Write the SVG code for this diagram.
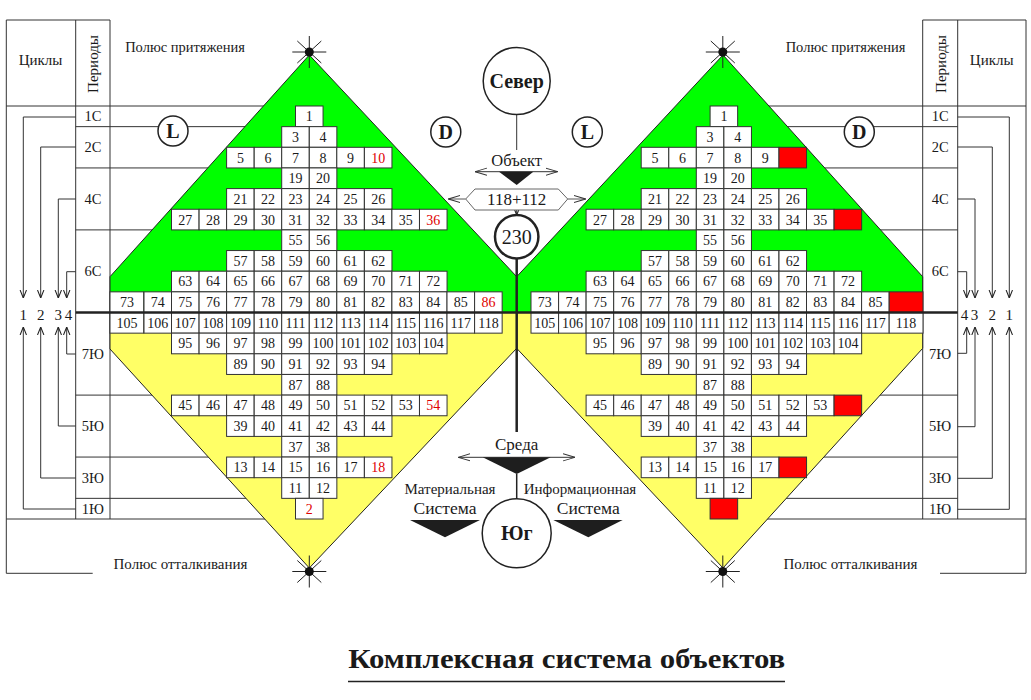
<svg xmlns="http://www.w3.org/2000/svg" xmlns:xlink="http://www.w3.org/1999/xlink" width="1031" height="700" viewBox="0 0 1031 700">
<style>
.t{font-family:"Liberation Serif","Times New Roman",serif;fill:#1a1a1a}
.grid use{fill:#fff;stroke:#333;stroke-width:1}
.grid .rc{fill:#ff0000}
.grid text{font-family:"Liberation Serif","Times New Roman",serif;font-size:14px;text-anchor:middle;fill:#1a1a1a}
.grid text.r{fill:#e00000}
.ln{stroke:#333;stroke-width:1;fill:none}
.lbl{font-family:"Liberation Serif","Times New Roman",serif;font-size:14.5px;fill:#1a1a1a;text-anchor:middle}
.cyc{stroke:#333;stroke-width:1;fill:none;marker-end:url(#ah)}
.circ{fill:#fff;stroke:#222;stroke-width:1.5}
.big{font-family:"Liberation Serif","Times New Roman",serif;font-weight:bold;font-size:20px;text-anchor:middle;fill:#1a1a1a}
.mid{font-family:"Liberation Serif","Times New Roman",serif;text-anchor:middle;fill:#1a1a1a}
.blk{fill:#1e1e1e;stroke:none}
</style>
<defs>
<marker id="ah" viewBox="0 0 10 10" refX="10" refY="5" markerWidth="8" markerHeight="8" markerUnits="userSpaceOnUse" orient="auto-start-reverse"><path d="M0,1 L10,5 L0,9" fill="none" stroke="#222" stroke-width="1.3"/></marker>
<marker id="ah2" viewBox="0 0 10 10" refX="10" refY="5" markerWidth="12" markerHeight="9" markerUnits="userSpaceOnUse" orient="auto-start-reverse" preserveAspectRatio="none"><path d="M0,1 L10,5 L0,9" fill="none" stroke="#333" stroke-width="1"/></marker>
<rect id="c" width="27.55" height="20.65"/>
<rect id="cw" width="33.8" height="20.65"/>
<g id="star"><path d="M-17,0H17M0,-16V16M-12,-11L12,11M-12,11L12,-11" stroke="#222" stroke-width="1"/><circle r="4.5" fill="#111"/></g>
</defs>
<rect width="1031" height="700" fill="#fff"/>

<g id="table-lines" class="ln">
<path d="M6.3,20H110M6.3,20V573.3H92.7M75.7,20V519M110,20V519"/>
<path d="M6.3,106H300M75.7,126.65H300M75.7,167.95H300M75.7,229.9H300M75.7,395.1H300M75.7,457.05H300M75.7,498.35H300M6.3,519H300"/>
<path d="M922.7,20H1026M1026,20V573.3H940M922.7,20V519M957.7,20V519"/>
<path d="M730,106H1026M730,126.65H957.7M730,167.95H957.7M730,229.9H957.7M730,395.1H957.7M730,457.05H957.7M730,498.35H957.7M730,519H1026"/>
</g>

<g id="fields">
<polygon points="110,312.5 110,276.7 309.3,55 516.7,276.7 723,55 922.7,276.7 922.7,312.5" fill="#00ff00" stroke="#222" stroke-width="1"/>
<polygon points="110,312.5 110,349 309.3,568 516.7,348.3 723,568 922.7,348.3 922.7,312.5" fill="#ffff66" stroke="#222" stroke-width="1"/>
</g>

<g id="headers">
<text class="lbl" x="40.5" y="65" style="font-size:15px">Циклы</text>
<text class="lbl" transform="translate(97.5,64) rotate(-90)" style="font-size:15px">Периоды</text>
<text class="lbl" x="991.7" y="65" style="font-size:15px">Циклы</text>
<text class="lbl" transform="translate(945.5,64) rotate(-90)" style="font-size:15px">Периоды</text>
<text class="lbl" x="185" y="52">Полюс притяжения</text>
<text class="lbl" x="845.5" y="52">Полюс притяжения</text>
<text class="lbl" x="180.5" y="569" style="font-size:15px">Полюс отталкивания</text>
<text class="lbl" x="850.5" y="569" style="font-size:15px">Полюс отталкивания</text>
</g>

<g id="periods-left" class="lbl">
<text x="92.9" y="121.3">1С</text>
<text x="92.9" y="152.3">2С</text>
<text x="92.9" y="203.9">4С</text>
<text x="92.9" y="276.2">6С</text>
<text x="92.9" y="358.8">7Ю</text>
<text x="92.9" y="431.1">5Ю</text>
<text x="92.9" y="482.7">3Ю</text>
<text x="92.9" y="513.7">1Ю</text>
</g>
<g id="periods-right" class="lbl">
<text x="940.2" y="121.3">1С</text>
<text x="940.2" y="152.3">2С</text>
<text x="940.2" y="203.9">4С</text>
<text x="940.2" y="276.2">6С</text>
<text x="940.2" y="358.8">7Ю</text>
<text x="940.2" y="431.1">5Ю</text>
<text x="940.2" y="482.7">3Ю</text>
<text x="940.2" y="513.7">1Ю</text>
</g>

<g id="left-grid" class="grid">
<g transform="translate(0,106)"><use href="#c" x="295.5"/><text x="309.3" y="15.3">1</text></g>
<g transform="translate(0,126.65)"><use href="#c" x="281.7"/><use href="#c" x="309.3"/><text x="295.5" y="15.3">3</text><text x="323.1" y="15.3">4</text></g>
<g transform="translate(0,147.3)"><use href="#c" x="226.6"/><use href="#c" x="254.2"/><use href="#c" x="281.7"/><use href="#c" x="309.3"/><use href="#c" x="336.8"/><use href="#c" x="364.4"/><text x="240.4" y="15.3">5</text><text x="268" y="15.3">6</text><text x="295.5" y="15.3">7</text><text x="323.1" y="15.3">8</text><text x="350.6" y="15.3">9</text><text class="r" x="378.2" y="15.3">10</text></g>
<g transform="translate(0,167.95)"><use href="#c" x="281.7"/><use href="#c" x="309.3"/><text x="295.5" y="15.3">19</text><text x="323.1" y="15.3">20</text></g>
<g transform="translate(0,188.6)"><use href="#c" x="226.6"/><use href="#c" x="254.2"/><use href="#c" x="281.7"/><use href="#c" x="309.3"/><use href="#c" x="336.8"/><use href="#c" x="364.4"/><text x="240.4" y="15.3">21</text><text x="268" y="15.3">22</text><text x="295.5" y="15.3">23</text><text x="323.1" y="15.3">24</text><text x="350.6" y="15.3">25</text><text x="378.2" y="15.3">26</text></g>
<g transform="translate(0,209.25)"><use href="#c" x="171.5"/><use href="#c" x="199.1"/><use href="#c" x="226.6"/><use href="#c" x="254.2"/><use href="#c" x="281.7"/><use href="#c" x="309.3"/><use href="#c" x="336.8"/><use href="#c" x="364.4"/><use href="#c" x="391.9"/><use href="#c" x="419.5"/><text x="185.3" y="15.3">27</text><text x="212.9" y="15.3">28</text><text x="240.4" y="15.3">29</text><text x="268" y="15.3">30</text><text x="295.5" y="15.3">31</text><text x="323.1" y="15.3">32</text><text x="350.6" y="15.3">33</text><text x="378.2" y="15.3">34</text><text x="405.7" y="15.3">35</text><text class="r" x="433.3" y="15.3">36</text></g>
<g transform="translate(0,229.9)"><use href="#c" x="281.7"/><use href="#c" x="309.3"/><text x="295.5" y="15.3">55</text><text x="323.1" y="15.3">56</text></g>
<g transform="translate(0,250.55)"><use href="#c" x="226.6"/><use href="#c" x="254.2"/><use href="#c" x="281.7"/><use href="#c" x="309.3"/><use href="#c" x="336.8"/><use href="#c" x="364.4"/><text x="240.4" y="15.3">57</text><text x="268" y="15.3">58</text><text x="295.5" y="15.3">59</text><text x="323.1" y="15.3">60</text><text x="350.6" y="15.3">61</text><text x="378.2" y="15.3">62</text></g>
<g transform="translate(0,271.2)"><use href="#c" x="171.5"/><use href="#c" x="199.1"/><use href="#c" x="226.6"/><use href="#c" x="254.2"/><use href="#c" x="281.7"/><use href="#c" x="309.3"/><use href="#c" x="336.8"/><use href="#c" x="364.4"/><use href="#c" x="391.9"/><use href="#c" x="419.5"/><text x="185.3" y="15.3">63</text><text x="212.9" y="15.3">64</text><text x="240.4" y="15.3">65</text><text x="268" y="15.3">66</text><text x="295.5" y="15.3">67</text><text x="323.1" y="15.3">68</text><text x="350.6" y="15.3">69</text><text x="378.2" y="15.3">70</text><text x="405.7" y="15.3">71</text><text x="433.3" y="15.3">72</text></g>
<g transform="translate(0,291.85)"><use href="#cw" x="110"/><use href="#c" x="144"/><use href="#c" x="171.5"/><use href="#c" x="199.1"/><use href="#c" x="226.6"/><use href="#c" x="254.2"/><use href="#c" x="281.7"/><use href="#c" x="309.3"/><use href="#c" x="336.8"/><use href="#c" x="364.4"/><use href="#c" x="391.9"/><use href="#c" x="419.5"/><use href="#c" x="447"/><use href="#c" x="474.6"/><text x="127" y="15.3">73</text><text x="157.8" y="15.3">74</text><text x="185.3" y="15.3">75</text><text x="212.9" y="15.3">76</text><text x="240.4" y="15.3">77</text><text x="268" y="15.3">78</text><text x="295.5" y="15.3">79</text><text x="323.1" y="15.3">80</text><text x="350.6" y="15.3">81</text><text x="378.2" y="15.3">82</text><text x="405.7" y="15.3">83</text><text x="433.3" y="15.3">84</text><text x="460.8" y="15.3">85</text><text class="r" x="488.4" y="15.3">86</text></g>
<g transform="translate(0,312.5)"><use href="#cw" x="110"/><use href="#c" x="144"/><use href="#c" x="171.5"/><use href="#c" x="199.1"/><use href="#c" x="226.6"/><use href="#c" x="254.2"/><use href="#c" x="281.7"/><use href="#c" x="309.3"/><use href="#c" x="336.8"/><use href="#c" x="364.4"/><use href="#c" x="391.9"/><use href="#c" x="419.5"/><use href="#c" x="447"/><use href="#c" x="474.6"/><text x="127" y="15.3">105</text><text x="157.8" y="15.3">106</text><text x="185.3" y="15.3">107</text><text x="212.9" y="15.3">108</text><text x="240.4" y="15.3">109</text><text x="268" y="15.3">110</text><text x="295.5" y="15.3">111</text><text x="323.1" y="15.3">112</text><text x="350.6" y="15.3">113</text><text x="378.2" y="15.3">114</text><text x="405.7" y="15.3">115</text><text x="433.3" y="15.3">116</text><text x="460.8" y="15.3">117</text><text x="488.4" y="15.3">118</text></g>
<g transform="translate(0,333.15)"><use href="#c" x="171.5"/><use href="#c" x="199.1"/><use href="#c" x="226.6"/><use href="#c" x="254.2"/><use href="#c" x="281.7"/><use href="#c" x="309.3"/><use href="#c" x="336.8"/><use href="#c" x="364.4"/><use href="#c" x="391.9"/><use href="#c" x="419.5"/><text x="185.3" y="15.3">95</text><text x="212.9" y="15.3">96</text><text x="240.4" y="15.3">97</text><text x="268" y="15.3">98</text><text x="295.5" y="15.3">99</text><text x="323.1" y="15.3">100</text><text x="350.6" y="15.3">101</text><text x="378.2" y="15.3">102</text><text x="405.7" y="15.3">103</text><text x="433.3" y="15.3">104</text></g>
<g transform="translate(0,353.8)"><use href="#c" x="226.6"/><use href="#c" x="254.2"/><use href="#c" x="281.7"/><use href="#c" x="309.3"/><use href="#c" x="336.8"/><use href="#c" x="364.4"/><text x="240.4" y="15.3">89</text><text x="268" y="15.3">90</text><text x="295.5" y="15.3">91</text><text x="323.1" y="15.3">92</text><text x="350.6" y="15.3">93</text><text x="378.2" y="15.3">94</text></g>
<g transform="translate(0,374.45)"><use href="#c" x="281.7"/><use href="#c" x="309.3"/><text x="295.5" y="15.3">87</text><text x="323.1" y="15.3">88</text></g>
<g transform="translate(0,395.1)"><use href="#c" x="171.5"/><use href="#c" x="199.1"/><use href="#c" x="226.6"/><use href="#c" x="254.2"/><use href="#c" x="281.7"/><use href="#c" x="309.3"/><use href="#c" x="336.8"/><use href="#c" x="364.4"/><use href="#c" x="391.9"/><use href="#c" x="419.5"/><text x="185.3" y="15.3">45</text><text x="212.9" y="15.3">46</text><text x="240.4" y="15.3">47</text><text x="268" y="15.3">48</text><text x="295.5" y="15.3">49</text><text x="323.1" y="15.3">50</text><text x="350.6" y="15.3">51</text><text x="378.2" y="15.3">52</text><text x="405.7" y="15.3">53</text><text class="r" x="433.3" y="15.3">54</text></g>
<g transform="translate(0,415.75)"><use href="#c" x="226.6"/><use href="#c" x="254.2"/><use href="#c" x="281.7"/><use href="#c" x="309.3"/><use href="#c" x="336.8"/><use href="#c" x="364.4"/><text x="240.4" y="15.3">39</text><text x="268" y="15.3">40</text><text x="295.5" y="15.3">41</text><text x="323.1" y="15.3">42</text><text x="350.6" y="15.3">43</text><text x="378.2" y="15.3">44</text></g>
<g transform="translate(0,436.4)"><use href="#c" x="281.7"/><use href="#c" x="309.3"/><text x="295.5" y="15.3">37</text><text x="323.1" y="15.3">38</text></g>
<g transform="translate(0,457.05)"><use href="#c" x="226.6"/><use href="#c" x="254.2"/><use href="#c" x="281.7"/><use href="#c" x="309.3"/><use href="#c" x="336.8"/><use href="#c" x="364.4"/><text x="240.4" y="15.3">13</text><text x="268" y="15.3">14</text><text x="295.5" y="15.3">15</text><text x="323.1" y="15.3">16</text><text x="350.6" y="15.3">17</text><text class="r" x="378.2" y="15.3">18</text></g>
<g transform="translate(0,477.7)"><use href="#c" x="281.7"/><use href="#c" x="309.3"/><text x="295.5" y="15.3">11</text><text x="323.1" y="15.3">12</text></g>
<g transform="translate(0,498.35)"><use href="#c" x="295.5"/><text class="r" x="309.3" y="15.3">2</text></g>
</g>

<g id="right-grid" class="grid">
<g transform="translate(0,106)"><use href="#c" x="710.1"/><text x="723.9" y="15.3">1</text></g>
<g transform="translate(0,126.65)"><use href="#c" x="696.3"/><use href="#c" x="723.9"/><text x="710.1" y="15.3">3</text><text x="737.7" y="15.3">4</text></g>
<g transform="translate(0,147.3)"><use href="#c" x="641.2"/><use href="#c" x="668.8"/><use href="#c" x="696.3"/><use href="#c" x="723.9"/><use href="#c" x="751.4"/><use class="rc" href="#c" x="779"/><text x="655" y="15.3">5</text><text x="682.6" y="15.3">6</text><text x="710.1" y="15.3">7</text><text x="737.7" y="15.3">8</text><text x="765.2" y="15.3">9</text></g>
<g transform="translate(0,167.95)"><use href="#c" x="696.3"/><use href="#c" x="723.9"/><text x="710.1" y="15.3">19</text><text x="737.7" y="15.3">20</text></g>
<g transform="translate(0,188.6)"><use href="#c" x="641.2"/><use href="#c" x="668.8"/><use href="#c" x="696.3"/><use href="#c" x="723.9"/><use href="#c" x="751.4"/><use href="#c" x="779"/><text x="655" y="15.3">21</text><text x="682.6" y="15.3">22</text><text x="710.1" y="15.3">23</text><text x="737.7" y="15.3">24</text><text x="765.2" y="15.3">25</text><text x="792.8" y="15.3">26</text></g>
<g transform="translate(0,209.25)"><use href="#c" x="586.1"/><use href="#c" x="613.7"/><use href="#c" x="641.2"/><use href="#c" x="668.8"/><use href="#c" x="696.3"/><use href="#c" x="723.9"/><use href="#c" x="751.4"/><use href="#c" x="779"/><use href="#c" x="806.5"/><use class="rc" href="#c" x="834.1"/><text x="599.9" y="15.3">27</text><text x="627.5" y="15.3">28</text><text x="655" y="15.3">29</text><text x="682.6" y="15.3">30</text><text x="710.1" y="15.3">31</text><text x="737.7" y="15.3">32</text><text x="765.2" y="15.3">33</text><text x="792.8" y="15.3">34</text><text x="820.3" y="15.3">35</text></g>
<g transform="translate(0,229.9)"><use href="#c" x="696.3"/><use href="#c" x="723.9"/><text x="710.1" y="15.3">55</text><text x="737.7" y="15.3">56</text></g>
<g transform="translate(0,250.55)"><use href="#c" x="641.2"/><use href="#c" x="668.8"/><use href="#c" x="696.3"/><use href="#c" x="723.9"/><use href="#c" x="751.4"/><use href="#c" x="779"/><text x="655" y="15.3">57</text><text x="682.6" y="15.3">58</text><text x="710.1" y="15.3">59</text><text x="737.7" y="15.3">60</text><text x="765.2" y="15.3">61</text><text x="792.8" y="15.3">62</text></g>
<g transform="translate(0,271.2)"><use href="#c" x="586.1"/><use href="#c" x="613.7"/><use href="#c" x="641.2"/><use href="#c" x="668.8"/><use href="#c" x="696.3"/><use href="#c" x="723.9"/><use href="#c" x="751.4"/><use href="#c" x="779"/><use href="#c" x="806.5"/><use href="#c" x="834.1"/><text x="599.9" y="15.3">63</text><text x="627.5" y="15.3">64</text><text x="655" y="15.3">65</text><text x="682.6" y="15.3">66</text><text x="710.1" y="15.3">67</text><text x="737.7" y="15.3">68</text><text x="765.2" y="15.3">69</text><text x="792.8" y="15.3">70</text><text x="820.3" y="15.3">71</text><text x="847.9" y="15.3">72</text></g>
<g transform="translate(0,291.85)"><use href="#c" x="531"/><use href="#c" x="558.6"/><use href="#c" x="586.1"/><use href="#c" x="613.7"/><use href="#c" x="641.2"/><use href="#c" x="668.8"/><use href="#c" x="696.3"/><use href="#c" x="723.9"/><use href="#c" x="751.4"/><use href="#c" x="779"/><use href="#c" x="806.5"/><use href="#c" x="834.1"/><use href="#c" x="861.6"/><use class="rc" href="#cw" x="889.2"/><text x="544.8" y="15.3">73</text><text x="572.4" y="15.3">74</text><text x="599.9" y="15.3">75</text><text x="627.5" y="15.3">76</text><text x="655" y="15.3">77</text><text x="682.6" y="15.3">78</text><text x="710.1" y="15.3">79</text><text x="737.7" y="15.3">80</text><text x="765.2" y="15.3">81</text><text x="792.8" y="15.3">82</text><text x="820.3" y="15.3">83</text><text x="847.9" y="15.3">84</text><text x="875.4" y="15.3">85</text></g>
<g transform="translate(0,312.5)"><use href="#c" x="531"/><use href="#c" x="558.6"/><use href="#c" x="586.1"/><use href="#c" x="613.7"/><use href="#c" x="641.2"/><use href="#c" x="668.8"/><use href="#c" x="696.3"/><use href="#c" x="723.9"/><use href="#c" x="751.4"/><use href="#c" x="779"/><use href="#c" x="806.5"/><use href="#c" x="834.1"/><use href="#c" x="861.6"/><use href="#cw" x="889.2"/><text x="544.8" y="15.3">105</text><text x="572.4" y="15.3">106</text><text x="599.9" y="15.3">107</text><text x="627.5" y="15.3">108</text><text x="655" y="15.3">109</text><text x="682.6" y="15.3">110</text><text x="710.1" y="15.3">111</text><text x="737.7" y="15.3">112</text><text x="765.2" y="15.3">113</text><text x="792.8" y="15.3">114</text><text x="820.3" y="15.3">115</text><text x="847.9" y="15.3">116</text><text x="875.4" y="15.3">117</text><text x="906" y="15.3">118</text></g>
<g transform="translate(0,333.15)"><use href="#c" x="586.1"/><use href="#c" x="613.7"/><use href="#c" x="641.2"/><use href="#c" x="668.8"/><use href="#c" x="696.3"/><use href="#c" x="723.9"/><use href="#c" x="751.4"/><use href="#c" x="779"/><use href="#c" x="806.5"/><use href="#c" x="834.1"/><text x="599.9" y="15.3">95</text><text x="627.5" y="15.3">96</text><text x="655" y="15.3">97</text><text x="682.6" y="15.3">98</text><text x="710.1" y="15.3">99</text><text x="737.7" y="15.3">100</text><text x="765.2" y="15.3">101</text><text x="792.8" y="15.3">102</text><text x="820.3" y="15.3">103</text><text x="847.9" y="15.3">104</text></g>
<g transform="translate(0,353.8)"><use href="#c" x="641.2"/><use href="#c" x="668.8"/><use href="#c" x="696.3"/><use href="#c" x="723.9"/><use href="#c" x="751.4"/><use href="#c" x="779"/><text x="655" y="15.3">89</text><text x="682.6" y="15.3">90</text><text x="710.1" y="15.3">91</text><text x="737.7" y="15.3">92</text><text x="765.2" y="15.3">93</text><text x="792.8" y="15.3">94</text></g>
<g transform="translate(0,374.45)"><use href="#c" x="696.3"/><use href="#c" x="723.9"/><text x="710.1" y="15.3">87</text><text x="737.7" y="15.3">88</text></g>
<g transform="translate(0,395.1)"><use href="#c" x="586.1"/><use href="#c" x="613.7"/><use href="#c" x="641.2"/><use href="#c" x="668.8"/><use href="#c" x="696.3"/><use href="#c" x="723.9"/><use href="#c" x="751.4"/><use href="#c" x="779"/><use href="#c" x="806.5"/><use class="rc" href="#c" x="834.1"/><text x="599.9" y="15.3">45</text><text x="627.5" y="15.3">46</text><text x="655" y="15.3">47</text><text x="682.6" y="15.3">48</text><text x="710.1" y="15.3">49</text><text x="737.7" y="15.3">50</text><text x="765.2" y="15.3">51</text><text x="792.8" y="15.3">52</text><text x="820.3" y="15.3">53</text></g>
<g transform="translate(0,415.75)"><use href="#c" x="641.2"/><use href="#c" x="668.8"/><use href="#c" x="696.3"/><use href="#c" x="723.9"/><use href="#c" x="751.4"/><use href="#c" x="779"/><text x="655" y="15.3">39</text><text x="682.6" y="15.3">40</text><text x="710.1" y="15.3">41</text><text x="737.7" y="15.3">42</text><text x="765.2" y="15.3">43</text><text x="792.8" y="15.3">44</text></g>
<g transform="translate(0,436.4)"><use href="#c" x="696.3"/><use href="#c" x="723.9"/><text x="710.1" y="15.3">37</text><text x="737.7" y="15.3">38</text></g>
<g transform="translate(0,457.05)"><use href="#c" x="641.2"/><use href="#c" x="668.8"/><use href="#c" x="696.3"/><use href="#c" x="723.9"/><use href="#c" x="751.4"/><use class="rc" href="#c" x="779"/><text x="655" y="15.3">13</text><text x="682.6" y="15.3">14</text><text x="710.1" y="15.3">15</text><text x="737.7" y="15.3">16</text><text x="765.2" y="15.3">17</text></g>
<g transform="translate(0,477.7)"><use href="#c" x="696.3"/><use href="#c" x="723.9"/><text x="710.1" y="15.3">11</text><text x="737.7" y="15.3">12</text></g>
<g transform="translate(0,498.35)"><use class="rc" href="#c" x="710.1"/></g>
</g>

<g id="axis">
<path d="M75.7,312.5H957.7" stroke="#222" stroke-width="2.5"/>
</g>

<g id="stars">
<use href="#star" x="309.3" y="52"/>
<use href="#star" x="722.8" y="52"/>
<use href="#star" x="309.3" y="571.5"/>
<use href="#star" x="722.8" y="571.5"/>
</g>

<g id="connectors">
<g id="cycles-left" class="cyc">
<path d="M75.7,117H23.3V298"/>
<path d="M75.7,147H40.7V298"/>
<path d="M75.7,199H58.3V298"/>
<path d="M75.7,271.7H66.7V298"/>
<path d="M75.7,509H23.3V327"/>
<path d="M75.7,478H40.7V327"/>
<path d="M75.7,426H58.3V327"/>
<path d="M75.7,354H66.7V327"/>
</g>
<g id="cycles-right" class="cyc">
<path d="M957.7,117H1009.3V298"/>
<path d="M957.7,147H992.3V298"/>
<path d="M957.7,199H975V298"/>
<path d="M957.7,271.7H966.7V298"/>
<path d="M957.7,509.3H1009.3V327"/>
<path d="M957.7,478.3H992.3V327"/>
<path d="M957.7,426.7H975V327"/>
<path d="M957.7,353.3H966.7V327"/>
</g>
<path d="M516.7,114.5V150" class="ln" stroke="#222"/>
<path d="M475,171.7H557.7" stroke="#333" stroke-width="1" fill="none" marker-start="url(#ah2)" marker-end="url(#ah2)"/>
<path d="M465.7,199H448.3" stroke="#555" stroke-width="1" fill="none" marker-end="url(#ah2)"/>
<path d="M567.7,199H585.7" stroke="#555" stroke-width="1" fill="none" marker-end="url(#ah2)"/>
<path d="M516.7,210V215" stroke="#333" stroke-width="1" fill="none" marker-end="url(#ah)"/>
<path d="M516.7,258.3V432" stroke="#222" stroke-width="2.5" fill="none"/>
<path d="M458.3,457.3H575" stroke="#333" stroke-width="1" fill="none" marker-start="url(#ah2)" marker-end="url(#ah2)"/>
<path d="M516.7,474V499" stroke="#222" stroke-width="1.5" fill="none"/>
</g>

<g id="cycle-labels" class="lbl" style="font-size:15px">
<text x="23.3" y="320">1</text><text x="40.7" y="320">2</text><text x="58.3" y="320">3</text><text x="68.6" y="320">4</text>
<text x="964.6" y="320">4</text><text x="974.6" y="320">3</text><text x="992.3" y="320">2</text><text x="1009.3" y="320">1</text>
</g>

<g id="node-L-left"><circle class="circ" cx="173" cy="131" r="15"/><text class="big" x="173" y="138">L</text></g>
<g id="node-D-left"><circle class="circ" cx="445.8" cy="132" r="15"/><text class="big" x="445.8" y="139">D</text></g>
<g id="node-L-right"><circle class="circ" cx="587.3" cy="132" r="15"/><text class="big" x="587.3" y="139">L</text></g>
<g id="node-D-right"><circle class="circ" cx="859.3" cy="132" r="15"/><text class="big" x="859.3" y="139">D</text></g>

<g id="node-sever"><circle class="circ" cx="516.7" cy="81" r="33.5"/><text class="big" x="516.7" y="88">Север</text></g>
<g id="node-object"><text class="mid" x="516.7" y="166" style="font-size:16.5px">Объект</text><polygon class="blk" points="499,171.7 533.3,171.7 516.7,185"/></g>
<g id="node-sum"><polygon points="465.7,199 475,189 558.3,189 567.7,199 558.3,210 475,210" fill="#fff" stroke="#666" stroke-width="1"/><text class="mid" x="516.7" y="205" style="font-size:17px">118+112</text></g>
<g id="node-230"><circle cx="516.7" cy="236.7" r="21.7" fill="#fff" stroke="#222" stroke-width="2.5"/><text class="mid" x="516.7" y="243.5" style="font-size:20px">230</text></g>
<g id="node-sreda"><text class="mid" x="516.7" y="450" style="font-size:17px">Среда</text><polygon class="blk" points="482.7,457.3 550.7,457.3 516.7,474"/></g>
<g id="node-material"><text class="mid" x="450" y="494" style="font-size:15px">Материальная</text><text class="mid" x="445" y="513.5" style="font-size:17.5px">Система</text><polygon class="blk" points="410,520 480,520 445,537.3"/></g>
<g id="node-info"><text class="mid" x="580" y="494" style="font-size:15px">Информационная</text><text class="mid" x="588.3" y="513.5" style="font-size:17.5px">Система</text><polygon class="blk" points="553.3,520 622.7,520 588.3,537.3"/></g>
<g id="node-yug"><circle class="circ" cx="516.7" cy="533.3" r="34.5"/><text class="big" x="516.7" y="540">Юг</text></g>

<g id="title">
<text x="566.7" y="668" text-anchor="middle" textLength="437" lengthAdjust="spacingAndGlyphs" style="font-family:'Liberation Serif','Times New Roman',serif;font-weight:bold;font-size:27px;fill:#1a1a1a">Комплексная система объектов</text>
<path d="M348,681.5H785" stroke="#222" stroke-width="1.5"/>
</g>
</svg>
